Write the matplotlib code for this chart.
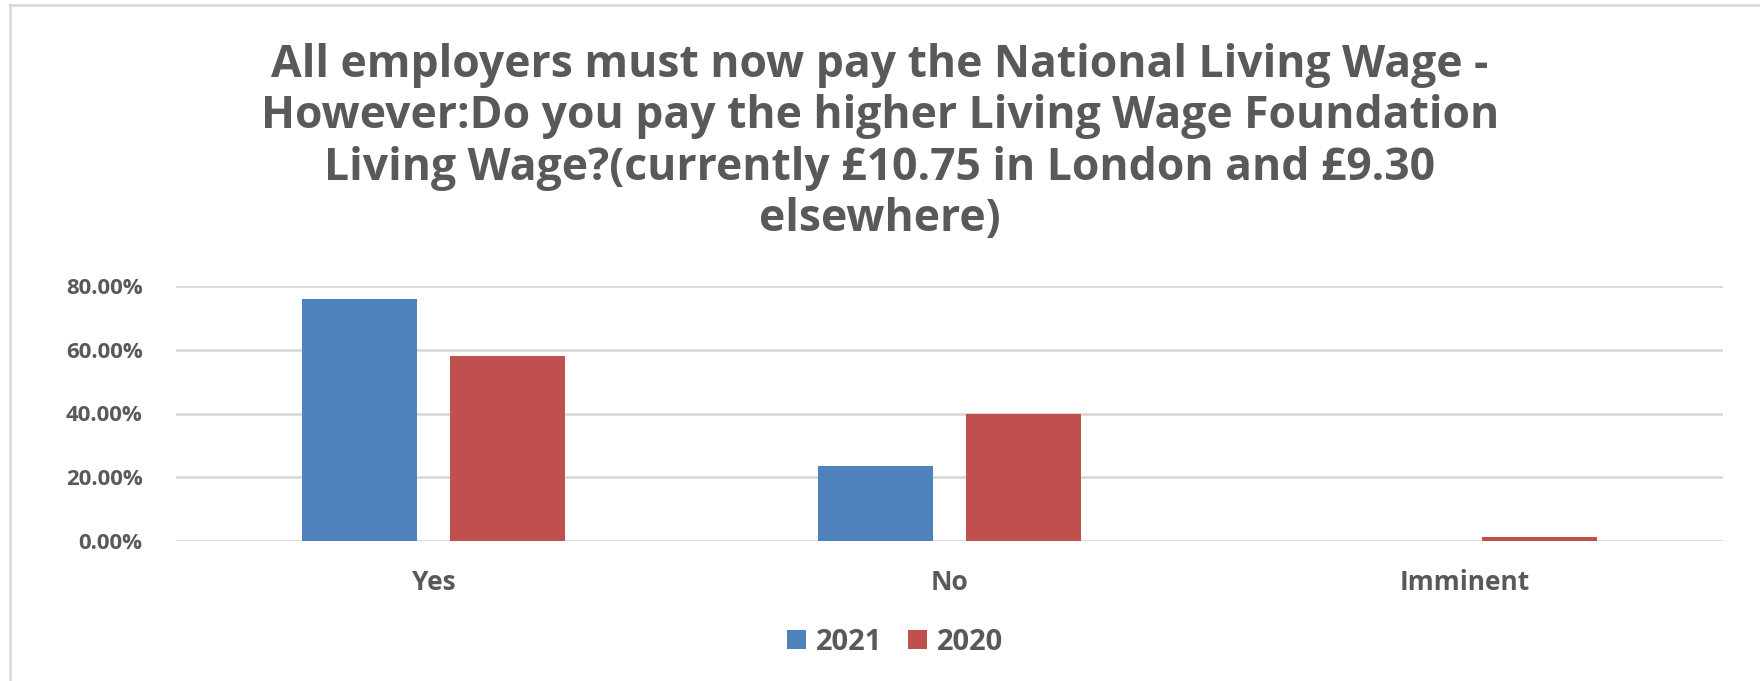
import matplotlib.pyplot as plt
from matplotlib.lines import Line2D
import numpy as np

categories = ["Yes", "No", "Imminent"]
series_names = ["2021", "2020"]
values_2021 = [75.9, 23.6, 0.0]
values_2020 = [58.1, 39.7, 1.4]
y_ticks = [0, 20, 40, 60, 80]

title = ("All employers must now pay the National Living Wage -\n"
         "However:Do you pay the higher Living Wage Foundation\n"
         "Living Wage?(currently £10.75 in London and £9.30\n"
         "elsewhere)")

blue = "#4f81bd"
red = "#c0504d"
text_grey = "#595959"

plt.rcParams['font.family'] = ['Open Sans', 'DejaVu Sans']

fig = plt.figure(figsize=(17.6, 6.81), dpi=100)
ax = fig.add_axes([176/1760, 1 - 541/681, (1723 - 176)/1760, (541 - 286)/681])

x = np.arange(len(categories))
w = 0.223
off = w/2 + 0.032
ax.bar(x - off, values_2021, w, color=blue, label=series_names[0], zorder=3)
ax.bar(x + off, values_2020, w, color=red, label=series_names[1], zorder=3)

ax.set_xlim(-0.5, len(categories) - 0.5)
ax.set_ylim(0, 80)
ax.set_yticks(y_ticks)
ax.set_yticklabels([f"{t:.2f}%" for t in y_ticks])
ax.set_xticks(x)
ax.set_xticklabels(categories)
ax.grid(axis="y", color="#d9d9d9", linewidth=2, zorder=0)
for s in ax.spines.values():
    s.set_visible(False)
ax.tick_params(axis="both", length=0, colors=text_grey)
ax.tick_params(axis="y", pad=24, labelsize=16)
ax.tick_params(axis="x", pad=20, labelsize=19)
for lab in ax.get_yticklabels() + ax.get_xticklabels():
    lab.set_fontweight("bold")

fig.text(0.5, 1 - 43/681, title, ha="center", va="top", fontsize=32,
         fontweight="bold", color=text_grey, linespacing=1.19)

leg = fig.legend(loc="center", bbox_to_anchor=(895/1760, 1 - 642/681), ncol=2,
                 frameon=False, fontsize=21, handlelength=0.65, handleheight=0.65,
                 columnspacing=0.9, handletextpad=0.34)
for t in leg.get_texts():
    t.set_color(text_grey)
    t.set_fontweight("bold")

# chart border
fig.add_artist(Line2D([10/1760, 10/1760], [0, 1 - 5/681], transform=fig.transFigure,
                      color="#d9d9d9", linewidth=2))
fig.add_artist(Line2D([10/1760, 1], [1 - 5/681, 1 - 5/681], transform=fig.transFigure,
                      color="#d9d9d9", linewidth=2))

fig.savefig("out.png", dpi=100)
